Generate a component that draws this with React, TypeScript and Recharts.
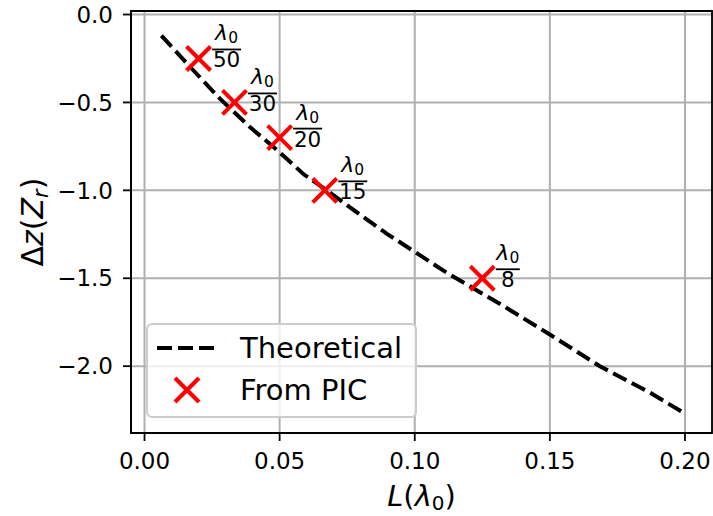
import {
  ComposedChart,
  Line,
  Scatter,
  XAxis,
  YAxis,
  CartesianGrid,
  ReferenceArea,
} from "recharts";

// theoretical curve
const theoryL = [
  0.00625, 0.017, 0.028, 0.039, 0.049, 0.059, 0.0675, 0.079, 0.09, 0.101,
  0.112, 0.122, 0.132, 0.15, 0.1685, 0.187, 0.2,
];
const theoryDz = [
  -0.12, -0.3, -0.48, -0.64, -0.77, -0.91, -1.0, -1.13, -1.25, -1.36, -1.47,
  -1.56, -1.65, -1.82, -2.0, -2.15, -2.27,
];

// PIC points (L = lambda0 / N)
const picDen = [50, 30, 20, 15, 8];
const picL = [0.02, 0.0333, 0.05, 0.0667, 0.125];
const picDz = [-0.25, -0.5, -0.7, -1.0, -1.5];

const xTicks = [0, 0.05, 0.1, 0.15, 0.2];
const yTicks = [0, -0.5, -1.0, -1.5, -2.0];

const theoryData = theoryL.map((L, i) => ({ L, dz: theoryDz[i] }));
const picData = picL.map((L, i) => ({ L, dz: picDz[i], den: picDen[i] }));

const FONT = "DejaVu Sans";
const RED = "#ff0000";

const fmtX = (v: number) => v.toFixed(2);
const fmtY = (v: number) => v.toFixed(1).replace("-", "\u2212");

const PicMarker = (props: any) => {
  const { cx, cy, payload } = props;
  if (cx == null || cy == null) return null;
  const h = 12;
  const den = String(payload.den);
  const denW = den.length * 13.5;
  const barLen = Math.max(22, denW) + 2;
  const x0 = cx + 13.5;
  const mid = x0 + barLen / 2;
  return (
    <g>
      <line x1={cx - h} y1={cy - h} x2={cx + h} y2={cy + h} stroke={RED} strokeWidth={4} />
      <line x1={cx - h} y1={cy + h} x2={cx + h} y2={cy - h} stroke={RED} strokeWidth={4} />
      <text x={mid} y={cy - 18} textAnchor="middle" fontFamily={FONT} fontSize={22} fill="#000">
        <tspan fontStyle="italic">λ</tspan>
        <tspan fontSize={15.5} dy={3}>0</tspan>
      </text>
      <line x1={x0} y1={cy - 9} x2={x0 + barLen} y2={cy - 9} stroke="#000" strokeWidth={1.8} />
      <text x={mid} y={cy + 9} textAnchor="middle" fontFamily={FONT} fontSize={21.5} fill="#000">
        {den}
      </text>
    </g>
  );
};

const XTitle = (props: any) => {
  const { x, y, width } = props.viewBox;
  return (
    <text x={x + width / 2} y={y + 73} textAnchor="middle" fontFamily={FONT} fontSize={29} fill="#000">
      <tspan fontStyle="italic">L</tspan>(<tspan fontStyle="italic">λ</tspan>
      <tspan fontSize={20} dy={4}>0</tspan>
      <tspan dy={-4}>)</tspan>
    </text>
  );
};

const YTitle = (props: any) => {
  const { y, height } = props.viewBox;
  const cx = 43;
  const cy = y + height / 2;
  return (
    <text
      x={cx}
      y={cy}
      transform={`rotate(-90, ${cx}, ${cy})`}
      textAnchor="middle"
      fontFamily={FONT}
      fontSize={30}
      fill="#000"
    >
      Δ<tspan fontStyle="italic">z</tspan>(<tspan fontStyle="italic">Z</tspan>
      <tspan fontStyle="italic" fontSize={21} dy={5}>r</tspan>
      <tspan dy={-5}>)</tspan>
    </text>
  );
};

const LegendBox = () => (
  <svg
    width={713}
    height={516}
    style={{ position: "absolute", left: 0, top: 0, pointerEvents: "none" }}
  >
    <rect x={147} y={324} width={269} height={93} rx={5} fill="#fff" fillOpacity={0.8} stroke="#cccccc" strokeWidth={2} />
    <line x1={157} y1={348} x2={215} y2={348} stroke="#000" strokeWidth={4} strokeDasharray="15 6" />
    <text x={240} y={358} fontFamily={FONT} fontSize={29} fill="#000">
      Theoretical
    </text>
    <line x1={175} y1={378} x2={199} y2={402} stroke={RED} strokeWidth={4} />
    <line x1={175} y1={402} x2={199} y2={378} stroke={RED} strokeWidth={4} />
    <text x={240} y={400} fontFamily={FONT} fontSize={29} fill="#000">
      From PIC
    </text>
  </svg>
);

const App = () => {
  return (
    <div style={{ position: "absolute", left: 0, top: 0, width: 713, height: 516, background: "#fff" }}>
      <ComposedChart
        width={713}
        height={516}
        margin={{ top: 11, right: 1, bottom: 0, left: 0 }}
        style={{ fontFamily: FONT }}
      >
        <CartesianGrid stroke="#b0b0b0" strokeWidth={2} />
        <XAxis
          dataKey="L"
          type="number"
          domain={[-0.005, 0.21]}
          allowDataOverflow
          ticks={xTicks}
          tickFormatter={fmtX}
          height={83}
          tickSize={8}
          tickMargin={12}
          stroke="#000"
          strokeWidth={1.8}
          tick={{ fill: "#000", fontSize: 23, fontFamily: FONT }}
          label={<XTitle />}
        />
        <YAxis
          dataKey="dz"
          type="number"
          domain={[-2.38, 0.02]}
          allowDataOverflow
          ticks={yTicks}
          tickFormatter={fmtY}
          width={131}
          tickSize={8}
          tickMargin={10}
          stroke="#000"
          strokeWidth={1.8}
          tick={{ fill: "#000", fontSize: 23, fontFamily: FONT }}
          label={<YTitle />}
        />
        <ReferenceArea
          x1={-0.005}
          x2={0.21}
          y1={-2.38}
          y2={0.02}
          fill="none"
          stroke="#000"
          strokeWidth={1.8}
          ifOverflow="visible"
        />
        <Scatter data={picData} dataKey="dz" shape={(p: any) => <PicMarker {...p} />} isAnimationActive={false} />
        <Line
          data={theoryData}
          dataKey="dz"
          type="linear"
          stroke="#000"
          strokeWidth={4}
          strokeDasharray="15 6"
          dot={false}
          activeDot={false}
          isAnimationActive={false}
        />
      </ComposedChart>
      <LegendBox />
    </div>
  );
};

export default App;
